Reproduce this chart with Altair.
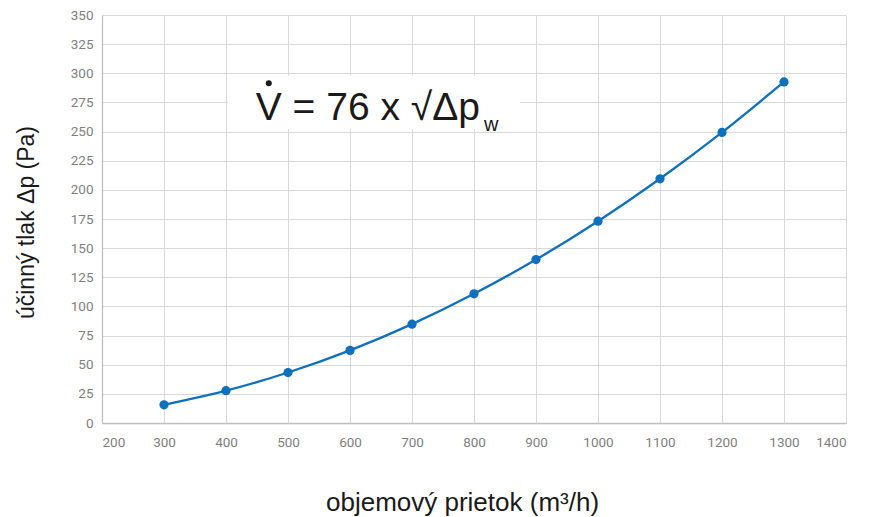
import altair as alt
import pandas as pd

flow = [300, 400, 500, 600, 700, 800, 900, 1000, 1100, 1200, 1300]
pressure = [15.6, 27.7, 43.3, 62.3, 84.8, 110.8, 140.2, 173.1, 209.5, 249.3, 292.6]

x_ticks = list(range(200, 1401, 100))
y_ticks = list(range(0, 351, 25))

df = pd.DataFrame({"flow": flow, "dp": pressure})

BLUE = "#0f70bd"

xs = alt.Scale(domain=[200, 1400], nice=False, zero=False)
ys = alt.Scale(domain=[0, 350], nice=False)

x_axis = alt.Axis(
    values=x_ticks, format="d", labelOverlap=False,
    title="objemový prietok (m³/h)", titleX=360, titleY=87,
    titleBaseline="alphabetic", titleAnchor="start", titleAlign="center",
    titleFontSize=26)
y_axis = alt.Axis(
    values=y_ticks, format="d", labelOverlap=False,
    title="účinný tlak Δp (Pa)", titleX=-64, titleY=207,
    titleAlign="center", titleBaseline="bottom", titleAnchor="start")


def X(field):
    return alt.X(field, scale=xs, axis=x_axis)


def Y(field):
    return alt.Y(field, scale=ys, axis=y_axis)


# annotation (white box + formula)
box = pd.DataFrame({"x1": [403], "x2": [874], "y1": [252], "y2": [298]})
rect = alt.Chart(box).mark_rect(color="white").encode(
    x=X("x1:Q"), x2="x2:Q", y=Y("y1:Q"), y2="y2:Q")

main_txt = pd.DataFrame({"x": [448], "y": [260], "t": ["V = 76 x √Δp"]})
formula = alt.Chart(main_txt).mark_text(
    align="left", baseline="alphabetic", font="Liberation Sans", fontSize=39,
    color="#1a1a1a").encode(x=X("x:Q"), y=Y("y:Q"), text="t:N")

sub_txt = pd.DataFrame({"x": [816], "y": [250.5], "t": ["w"]})
sub = alt.Chart(sub_txt).mark_text(
    align="left", baseline="alphabetic", font="Liberation Sans", fontSize=20,
    color="#1a1a1a").encode(x=X("x:Q"), y=Y("y:Q"), text="t:N")

dot_df = pd.DataFrame({"x": [469], "y": [291.5]})
dot = alt.Chart(dot_df).mark_circle(size=36, color="#1a1a1a", opacity=1).encode(
    x=X("x:Q"), y=Y("y:Q"))

base = alt.Chart(df).encode(x=X("flow:Q"), y=Y("dp:Q"))
line = base.mark_line(color=BLUE, strokeWidth=2.3, interpolate="monotone")
pts = base.mark_circle(color=BLUE, size=85, opacity=1)

chart = alt.layer(line, pts, rect, formula, sub, dot).properties(
    width=744, height=408,
    autosize=alt.AutoSizeParams(type="none"),
    padding={"left": 102, "top": 15, "right": 29, "bottom": 94},
).configure_view(stroke=None).configure_axis(
    domainColor="#bfbfbf", domainWidth=1.3, gridColor="#d9d9d9", gridWidth=1,
    ticks=False, labelColor="#7f7f7f", labelFont="Roboto",
    labelFontSize=13.5, labelPadding=9,
    titleFont="Liberation Sans", titleFontSize=23, titleFontWeight="normal",
    titleColor="#1a1a1a",
).configure_axisX(labelPadding=12)

chart.save("out.html", embed_options={"renderer": "svg", "actions": False})
